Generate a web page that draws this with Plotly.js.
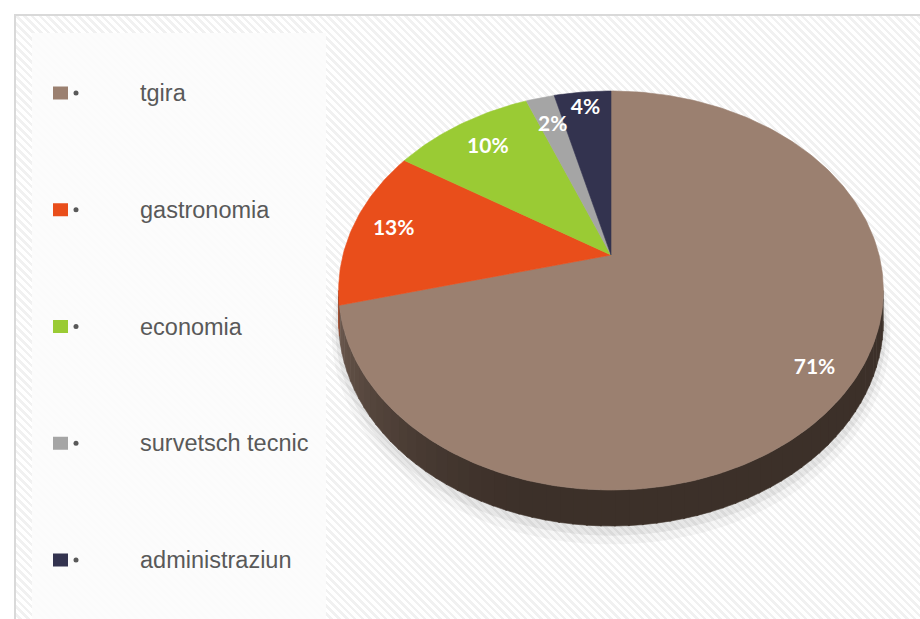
<!DOCTYPE html>
<html>
<head>
<meta charset="utf-8">
<script src="https://cdn.plot.ly/plotly-3.0.1.min.js"></script>
<style>
  html, body { margin:0; padding:0; background:#ffffff; }
  #wrap { position:relative; width:920px; height:619px; overflow:hidden; background:#ffffff; }
  #frame { position:absolute; left:14px; top:14px; width:920px; height:620px; border:2px solid #d9d9d9;
           background: repeating-linear-gradient(45deg, #ffffff 0px, #ffffff 3px, #f1f1f1 3px, #f1f1f1 5.5px); }
  #panel { position:absolute; left:32px; top:33px; width:294px; height:600px; background:rgba(252,252,252,0.88); }
  #chart { position:absolute; left:0; top:0; width:920px; height:619px; }
</style>
</head>
<body>
<div id="wrap">
  <div id="frame"></div>
  <div id="panel"></div>
  <div id="chart"></div>
</div>
<script>
// ---- data ----
const categories = ['tgira', 'gastronomia', 'economia', 'survetsch tecnic', 'administraziun'];
const values = [71, 13, 10, 2, 4];

// ---- styles ----
const sliceColors = ['#9b8070', '#e94e1b', '#9acb34', '#a5a5a5', '#33334f'];
const sideDark = [[60, 48, 41], [150, 52, 18], [95, 130, 30], [110, 110, 110], [30, 30, 50]];
const sideLight = [[112, 93, 82], [150, 52, 18], [95, 130, 30], [110, 110, 110], [30, 30, 50]];
const labelRadius = [0.87, 0.84, 0.8, 0.8, 0.88];

// perspective geometry of the tilted pie (pixel space)
const G = { cx: 611, cy: 255, r: 268, b: 147.8, c: 0.178, depth: 29.6 };

function proj(rf, deg, drop) {
  const t = deg * Math.PI / 180;
  const X = rf * Math.sin(t), D = rf * Math.cos(t);
  const den = 1 + G.c * D;
  return [G.cx + G.r * X / den, (G.cy - G.b * D + (drop || 0)) / den];
}

const total = values.reduce((a, b) => a + b, 0);
const starts = [], ends = [];
let acc = 0;
values.forEach(v => { starts.push(acc / total * 360); acc += v; ends.push(acc / total * 360); });

const traces = [];

// soft shadow under the pie
[[1.025, 9, 'rgba(0,0,0,0.035)'], [1.012, 5, 'rgba(0,0,0,0.06)']].forEach(([s, d, col]) => {
  const xs = [], ys = [];
  for (let a = 0; a <= 360; a += 2) { const p = proj(s, a, G.depth + d); xs.push(p[0]); ys.push(p[1]); }
  traces.push({ type: 'scatter', mode: 'lines', x: xs, y: ys, fill: 'toself', fillcolor: col,
                line: { width: 0 }, hoverinfo: 'skip', showlegend: false });
});

// visible side wall (front half)
const th1 = Math.acos(-G.c) * 180 / Math.PI;   // rightmost silhouette
const th2 = 360 - th1;                          // leftmost silhouette
function mix(a, b, t) { return 'rgb(' + a.map((v, k) => Math.round(v + (b[k] - v) * t)).join(',') + ')'; }
values.forEach((v, i) => {
  const s = Math.max(starts[i], th1), e = Math.min(ends[i], th2);
  if (e <= s) return;
  const n = Math.max(1, Math.ceil((e - s) / 2.5));
  for (let k = 0; k < n; k++) {
    const a0 = s + (e - s) * k / n, a1 = s + (e - s) * (k + 1) / n + 0.3;
    const mid = (a0 + a1) / 2;
    let t = (mid - 195) / (th2 - 195); t = Math.max(0, Math.min(1, t)); t = Math.pow(t, 1.4);
    const xs = [], ys = [];
    const m = 4;
    for (let j = 0; j <= m; j++) { const p = proj(1, a0 + (Math.min(a1, e) - a0) * j / m, 0); xs.push(p[0]); ys.push(p[1]); }
    for (let j = m; j >= 0; j--) { const p = proj(1, a0 + (Math.min(a1, e) - a0) * j / m, G.depth); xs.push(p[0]); ys.push(p[1]); }
    const col = mix(sideDark[i], sideLight[i], t);
    traces.push({ type: 'scatter', mode: 'lines', x: xs, y: ys, fill: 'toself', fillcolor: col,
                  line: { width: 0.6, color: col }, hoverinfo: 'skip', showlegend: false });
  }
});

// top face sectors
values.forEach((v, i) => {
  const xs = [G.cx], ys = [G.cy];
  const n = Math.max(4, Math.ceil((ends[i] - starts[i]) / 1));
  for (let k = 0; k <= n; k++) { const p = proj(1, starts[i] + (ends[i] - starts[i]) * k / n, 0); xs.push(p[0]); ys.push(p[1]); }
  xs.push(G.cx); ys.push(G.cy);
  traces.push({ type: 'scatter', mode: 'lines', x: xs, y: ys, fill: 'toself', fillcolor: sliceColors[i],
                line: { width: 0.6, color: sliceColors[i] }, hoverinfo: 'skip', showlegend: false, name: categories[i] });
});

// percentage labels
const lx = [], ly = [], lt = [];
values.forEach((v, i) => {
  const p = proj(labelRadius[i], (starts[i] + ends[i]) / 2, 0);
  lx.push(p[0]); ly.push(p[1]); lt.push(Math.round(v / total * 100) + '%');
});
traces.push({ type: 'scatter', mode: 'text', x: lx, y: ly, text: lt, textposition: 'middle center',
              textfont: { family: 'Lato, Carlito, sans-serif', size: 21, color: '#ffffff', weight: 700 },
              hoverinfo: 'skip', showlegend: false });

// legend (custom)
const LEG = { y0: 93, dy: 116.75, sqw: 15, sqh: 13, sqx: 53, bx: 76, tx: 138 };
const shapes = [], annotations = [];
categories.forEach((c, i) => {
  const y = LEG.y0 + LEG.dy * i;
  shapes.push({ type: 'rect', xref: 'x', yref: 'y', x0: LEG.sqx, x1: LEG.sqx + LEG.sqw, y0: y - LEG.sqh / 2, y1: y + LEG.sqh / 2,
                fillcolor: sliceColors[i], line: { width: 0 } });
  shapes.push({ type: 'circle', xref: 'x', yref: 'y', x0: LEG.bx - 2.5, x1: LEG.bx + 2.5, y0: y - 2.5, y1: y + 2.5,
                fillcolor: '#595959', line: { width: 0 } });
  annotations.push({ xref: 'x', yref: 'y', x: LEG.tx, y: y, text: c, showarrow: false, xanchor: 'left', yanchor: 'middle',
                     font: { family: 'Liberation Sans, Arial, sans-serif', size: 23.5, color: '#595959' } });
});

const layout = {
  width: 920, height: 619,
  margin: { l: 0, r: 0, t: 0, b: 0 },
  paper_bgcolor: 'rgba(0,0,0,0)', plot_bgcolor: 'rgba(0,0,0,0)',
  xaxis: { range: [0, 920], visible: false, fixedrange: true },
  yaxis: { range: [619, 0], visible: false, fixedrange: true },
  showlegend: false,
  shapes: shapes, annotations: annotations,
  hovermode: false
};

Plotly.newPlot('chart', traces, layout, { staticPlot: true, displayModeBar: false });
</script>
</body>
</html>
